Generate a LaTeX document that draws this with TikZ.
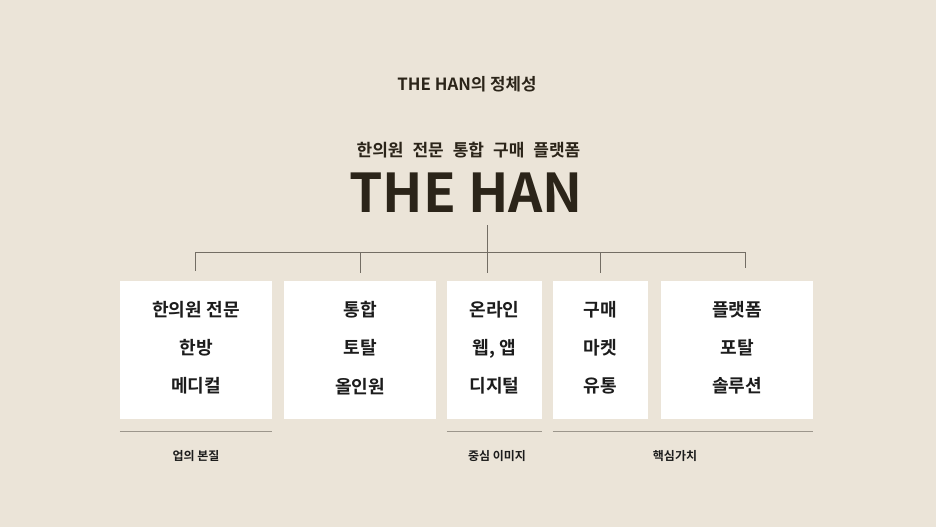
\documentclass[tikz,border=0pt]{standalone}
\usepackage{fontspec}
\setmainfont{Noto Sans CJK KR}[BoldFont={Noto Sans CJK KR Bold}]
\usetikzlibrary{positioning}
\definecolor{bgbeige}{HTML}{EBE4D8}
\definecolor{inkbrown}{HTML}{2B2419}
\definecolor{treegray}{HTML}{736D64}
\definecolor{rulegray}{HTML}{9C968C}
\definecolor{boxink}{HTML}{1C1C1C}
\newcommand{\wgap}{\hspace{9pt}}

\begin{document}
\begin{tikzpicture}[x=1pt,y=-1pt,
    valuebox/.style={fill=white, draw=none, inner sep=0pt, minimum height=138pt,
      align=center, text=boxink, font=\bfseries\fontsize{18.1}{38.2}\selectfont},
    caption/.style={anchor=base, text=boxink, font=\bfseries\fontsize{12}{14}\selectfont}]
    \fill[bgbeige] (0,0) rectangle (936,527);
    \useasboundingbox (0,0) rectangle (936,527);

    % titles
    \node[anchor=base, text=inkbrown, font=\bfseries\fontsize{16.8}{20}\selectfont] (title) at (467,90) {THE HAN의 정체성};
    \node[anchor=base, text=inkbrown, font=\bfseries\fontsize{17}{20}\selectfont] (slogan) at (468.5,156) {한의원\wgap 전문\wgap 통합\wgap 구매\wgap 플랫폼};
    \node[anchor=base, text=inkbrown, font=\bfseries\fontsize{53.5}{60}\selectfont] (brand) at (466,212) {THE HAN};

    % boxes
    \node[valuebox, minimum width=152pt] (b1) at (196,350) {};
    \node[valuebox, minimum width=152pt] (b2) at (360,350) {};
    \node[valuebox, minimum width=95pt]  (b3) at (494.5,350) {};
    \node[valuebox, minimum width=95pt]  (b4) at (600.5,350) {};
    \node[valuebox, minimum width=152pt] (b5) at (737,350) {};
    \foreach \b/\txt in {b1/{한의원 전문\\한방\\메디컬}, b2/{통합\\토탈\\올인원}, b3/{온라인\\웹, 앱\\디지털},
                         b4/{구매\\마켓\\유통}, b5/{플랫폼\\포탈\\솔루션}}
      \node[valuebox, fill=none, minimum height=0pt] (\b-text) at ([yshift=2pt]\b.center) {\txt};

    % tree
    \coordinate (root) at (487,225);
    \coordinate (hub) at (487,252);
    \coordinate (t1) at (195,252);
    \coordinate (t5) at (745,252);
    \draw[treegray, line width=0.8pt] (root) -- (hub);
    \draw[treegray, line width=0.8pt] (t1) -- (t5);
    \foreach \x/\len in {195/271, 360/273, 487/273, 600/273, 745/268}
      \draw[treegray, line width=0.8pt] (\x,252) -- (\x,\len);

    % rules and captions
    \draw[rulegray, line width=0.8pt] (b1.south west) ++(0,12) coordinate (r1a) -- (b1.south east |- r1a);
    \draw[rulegray, line width=0.8pt] (b3.south west) ++(0,12) coordinate (r2a) -- (b3.south east |- r2a);
    \draw[rulegray, line width=0.8pt] (b4.south west) ++(0,12) coordinate (r3a) -- (b5.south east |- r3a);
    \node[caption] (c1) at (196,460) {업의 본질};
    \node[caption] (c2) at (497,460) {중심 이미지};
    \node[caption] (c3) at (675,460) {핵심가치};
\end{tikzpicture}
\end{document}
